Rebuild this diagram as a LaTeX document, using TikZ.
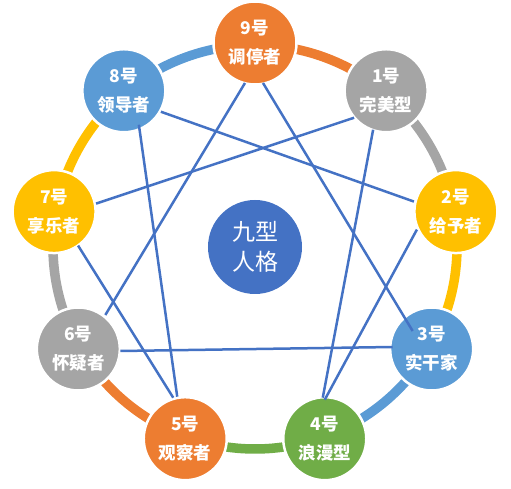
\documentclass[tikz,border=0pt]{standalone}
\usepackage{fontspec}
\newfontfamily\cjk{Noto Sans CJK SC}
\usetikzlibrary{calc}
\definecolor{cOrange}{HTML}{ED7D31}
\definecolor{cGray}{HTML}{A5A5A5}
\definecolor{cYellow}{HTML}{FFC000}
\definecolor{cBlue}{HTML}{5B9BD5}
\definecolor{cGreen}{HTML}{70AD47}
\definecolor{cDark}{HTML}{4472C4}
\tikzset{
  ring/.style={line width=9.5pt},
  typenode/.style={circle, draw=white, line width=2.5pt, minimum size=83pt, inner sep=0pt,
    text=white, align=center, font=\cjk\bfseries\fontsize{17.5pt}{29pt}\selectfont},
  centernode/.style={circle, fill=cDark, minimum size=94pt, inner sep=0pt,
    text=white, align=center, font=\cjk\fontsize{23pt}{30pt}\selectfont},
  link/.style={draw=cDark, line width=2.5pt}
}
\begin{document}
\begin{tikzpicture}[x=1pt,y=1pt]
\useasboundingbox (-255,-242) rectangle (256,247);
% ring segments
\foreach \a/\b/\c in {90/50/cOrange, 50/10/cGray, 10/-30/cYellow, -30/-70/cBlue,
  -70/-110/cGreen, -110/-150/cOrange, -150/-190/cGray, 170/130/cYellow, 130/90/cBlue}
  \draw[ring, \c] (\a:202) arc[start angle=\a, end angle=\b, radius=202];
% nodes
\node[typenode, fill=cOrange] (n9) at (90:204) {9号\\调停者};
\node[typenode, fill=cGray]   (n1) at (50:204) {1号\\完美型};
\node[typenode, fill=cYellow] (n2) at (10:204) {2号\\给予者};
\node[typenode, fill=cBlue]   (n3) at (-30:204) {3号\\实干家};
\node[typenode, fill=cGreen]  (n4) at (-70:204) {4号\\浪漫型};
\node[typenode, fill=cOrange] (n5) at (-110:204) {5号\\观察者};
\node[typenode, fill=cGray]   (n6) at (-150:204) {6号\\怀疑者};
\node[typenode, fill=cYellow] (n7) at (170:204) {7号\\享乐者};
\node[typenode, fill=cBlue]   (n8) at (130:204) {8号\\领导者};
\node[centernode] (c) at (0,0) {九型\\人格};
% connecting lines
\draw[link] ($(n9)+(8,-40)$) -- ($(n3)+(-19,18)$);
\draw[link] ($(n9)+(-10,-40)$) -- ($(n6)+(27,34)$);
\draw[link] ($(n6)+(42,-2)$) -- ($(n3)+(-39,2)$);
\draw[link] ($(n1)+(-13,-39)$) -- ($(n4)+(-2,41)$);
\draw[link] ($(n4)+(0,39)$) -- ($(n2)+(-39,-18)$);
\draw[link] ($(n2)+(-42,10)$) -- ($(n8)+(37,-21)$);
\draw[link] ($(n8)+(15,-34)$) -- ($(n5)+(-8,42)$);
\draw[link] ($(n5)+(-12,41)$) -- ($(n7)+(24,-34)$);
\draw[link] ($(n7)+(42,8)$) -- ($(n1)+(-32,-27)$);
\end{tikzpicture}
\end{document}
